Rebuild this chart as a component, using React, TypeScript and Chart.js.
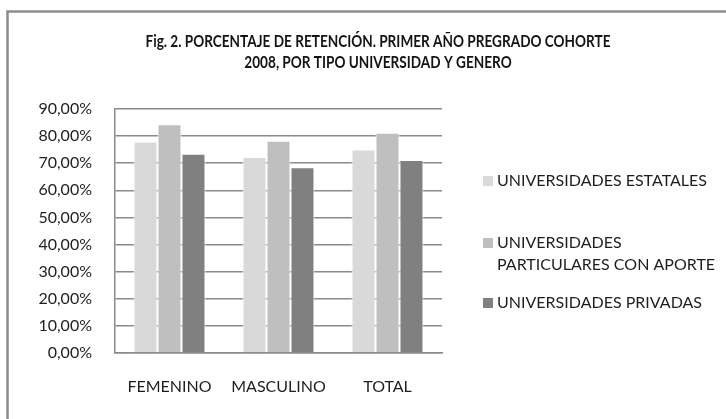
import React, { useEffect, useRef } from "react";
import { Chart, registerables } from "chart.js";

Chart.register(...registerables);

const categories = ["FEMENINO", "MASCULINO", "TOTAL"];
const seriesNames = [
  ["UNIVERSIDADES ESTATALES"],
  ["UNIVERSIDADES", "PARTICULARES CON APORTE"],
  ["UNIVERSIDADES PRIVADAS"],
];
const estatales = [78.0, 72.3, 75.1];
const particulares = [84.4, 78.3, 81.2];
const privadas = [73.5, 68.5, 71.2];
const titleLines = [
  "Fig. 2. PORCENTAJE DE RETENCIÓN. PRIMER AÑO PREGRADO COHORTE",
  "2008, POR TIPO UNIVERSIDAD Y GENERO",
];
const yMax = 90;
const yStep = 10;

const colors = ["#d9d9d9", "#bfbfbf", "#808080"];
const FONT = "Lato";
const TEXT = "#1e1e1e";
const GRID = "#8a8a8a";

const decorPlugin = {
  id: "decor",
  afterDraw(chart: any) {
    const ctx = chart.ctx as CanvasRenderingContext2D;
    ctx.save();
    // outer frame (top + left visible)
    ctx.strokeStyle = "#8c8c8c";
    ctx.lineWidth = 2.5;
    ctx.beginPath();
    ctx.moveTo(726, 11.5);
    ctx.lineTo(7.5, 11.5);
    ctx.lineTo(7.5, 419);
    ctx.stroke();

    // title
    ctx.fillStyle = "#141414";
    ctx.font = `bold 17px ${FONT}`;
    ctx.textBaseline = "middle";
    const tScale = 465 / ctx.measureText(titleLines[0]).width;
    const tys = [42, 63];
    titleLines.forEach((t, i) => {
      const w = ctx.measureText(t).width * tScale;
      ctx.save();
      ctx.translate(378 - w / 2, tys[i]);
      ctx.scale(tScale, 1);
      ctx.textAlign = "left";
      ctx.fillText(t, 0, 0);
      ctx.restore();
    });

    // legend
    ctx.fillStyle = TEXT;
    ctx.font = `16px ${FONT}`;
    const lScale = 210 / ctx.measureText(seriesNames[0][0]).width;
    const itemY = [181, 243, 303];
    seriesNames.forEach((lines, i) => {
      const ds = chart.data.datasets[i];
      ctx.fillStyle = ds.backgroundColor;
      ctx.fillRect(483, itemY[i] - 5, 10, 10);
      ctx.fillStyle = TEXT;
      lines.forEach((ln, j) => {
        ctx.save();
        ctx.translate(497, itemY[i] + j * 22);
        ctx.scale(lScale, 1);
        ctx.textAlign = "left";
        ctx.fillText(ln, 0, 0);
        ctx.restore();
      });
    });
    ctx.restore();
  },
};

export default function App() {
  const ref = useRef<HTMLCanvasElement>(null);
  useEffect(() => {
    document.body.style.margin = "0";
    const chart = new Chart(ref.current!, {
      type: "bar",
      data: {
        labels: categories,
        datasets: [
          { label: seriesNames[0].join(" "), data: estatales, backgroundColor: colors[0] },
          { label: seriesNames[1].join(" "), data: particulares, backgroundColor: colors[1] },
          { label: seriesNames[2].join(" "), data: privadas, backgroundColor: colors[2] },
        ].map((d) => ({
          ...d,
          borderColor: "#ffffff",
          borderWidth: 1,
          categoryPercentage: 0.66,
          barPercentage: 1,
        })),
      },
      options: {
        responsive: false,
        animation: false,
        layout: { padding: { top: 109, right: 284, left: 0, bottom: 0 } },
        plugins: {
          legend: { display: false },
          title: { display: false },
          tooltip: { enabled: false },
        },
        scales: {
          x: {
            grid: { display: false, drawTicks: false },
            border: { display: true, color: GRID, width: 1.5 },
            ticks: { color: TEXT, font: { family: FONT, size: 16 }, padding: 24 },
            afterFit: (s: any) => {
              s.height = 66;
            },
          },
          y: {
            min: 0,
            max: yMax,
            grid: { color: GRID, lineWidth: 1.5, drawTicks: false },
            border: { display: true, color: GRID, width: 1.5 },
            ticks: {
              stepSize: yStep,
              color: TEXT,
              font: { family: FONT, size: 16 },
              padding: 23,
              callback: (v: any) => Number(v).toFixed(2).replace(".", ",") + "%",
            },
            afterFit: (s: any) => {
              s.width = 115;
            },
          },
        },
      },
      plugins: [decorPlugin],
    });
    return () => chart.destroy();
  }, []);
  return (
    <div style={{ width: 726, height: 419 }}>
      <canvas ref={ref} width={726} height={419} style={{ display: "block" }} />
    </div>
  );
}
